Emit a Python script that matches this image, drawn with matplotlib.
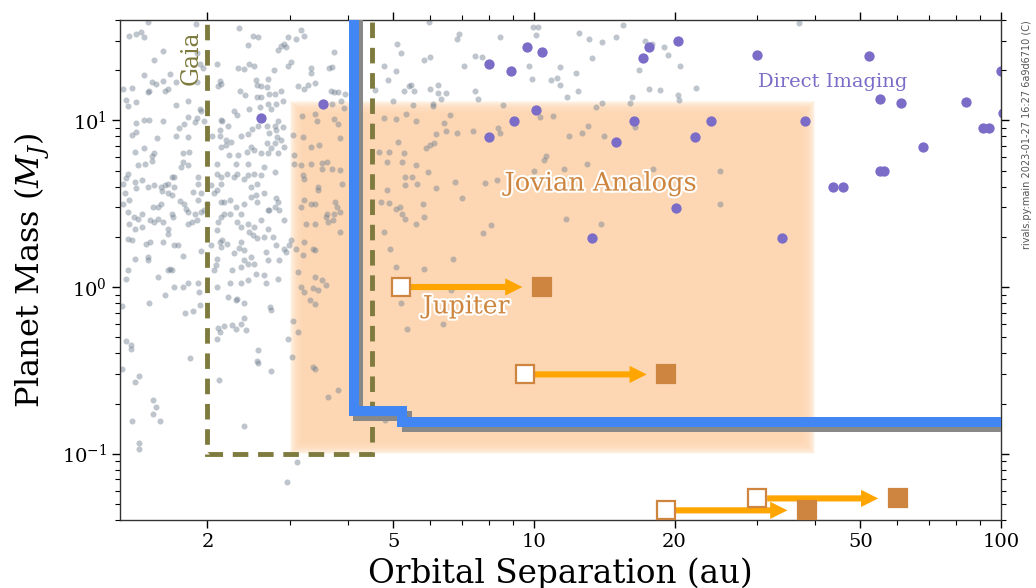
import matplotlib
matplotlib.use('Agg')
import matplotlib.pyplot as plt
import matplotlib.patheffects as pe
from matplotlib.patches import Rectangle
from matplotlib.ticker import NullFormatter
import numpy as np

# known planets (grey dots): (separation au, mass M_J)
known_planets = [
    # a < 2.7 au, upper part
    (1.49, 39), (1.36, 32), (1.41, 33), (1.44, 34), (1.46, 31.7), (1.61, 26), (1.54, 23), (1.46, 18.8),
    (1.52, 17.1), (1.55, 16.6), (1.61, 17.3), (1.66, 19), (1.71, 17), (1.65, 15.5), (1.62, 15.1), (1.50, 15.1),
    (1.49, 14.8), (1.38, 15.6), (1.32, 15.5), (1.34, 13.2), (1.35, 12.2), (1.41, 12.8), (1.71, 12.3), (1.82, 13.0),
    (1.93, 11.7), (1.94, 11.4), (1.90, 10.4), (1.88, 9.75), (1.97, 9.9), (1.61, 9.9), (1.50, 10.1), (1.46, 10.0),
    (1.41, 9.6), (1.74, 9.0), (1.78, 9.55), (1.82, 10.5), (2.14, 10.0), (2.15, 9.9), (2.21, 9.2), (2.13, 8.7),
    (2.05, 8.0), (1.82, 7.9), (1.71, 8.0), (1.56, 7.8), (1.41, 8.5), (1.38, 8.2), (1.46, 6.8), (1.40, 6.5),
    (1.54, 6.4), (1.52, 6.1), (1.77, 6.4), (1.83, 6.5), (2.13, 8.0), (2.19, 7.6), (2.19, 7.1), (2.14, 6.9),
    (2.25, 7.4), (2.36, 8.0), (2.48, 6.9), (2.44, 8.3), (2.49, 8.9), (2.57, 9.3), (2.68, 9.2), (2.71, 8.4),
    (2.68, 7.3), (2.52, 6.6), (2.43, 6.5), (2.61, 6.4), (2.70, 6.4), (2.33, 6.2), (2.23, 6.2), (2.34, 35.9),
    (2.50, 32.0), (2.57, 31.7), (2.44, 28.4), (2.10, 21.8), (2.33, 20.6), (2.39, 20.4), (2.46, 21.8), (2.52, 21.1),
    (2.54, 17.5), (2.61, 16.1), (2.55, 16.3), (2.69, 17.7), (2.68, 15.9), (2.35, 15.1), (2.41, 14.2), (2.28, 11.4),
    (2.32, 10.8), (2.45, 11.7), (2.59, 12.0), (2.60, 13.9), (2.69, 12.5), (2.71, 14.3), (2.56, 13.9), (2.13, 17.3),
    (2.14, 16.6), (2.11, 16.1), (1.90, 25.3), (1.93, 21.8), (1.90, 17.0), (1.96, 20.6), (1.89, 37.6),
    # a < 2.7 au, 1-6 M_J
    (1.42, 5.37), (1.47, 5.45), (1.52, 5.7), (1.35, 4.79), (1.34, 4.53), (1.40, 4.27), (1.45, 4.41), (1.41, 3.9),
    (1.32, 4.13), (1.33, 3.64), (1.32, 3.17), (1.36, 3.32), (1.35, 2.82), (1.39, 2.63), (1.42, 2.57), (1.45, 2.76),
    (1.36, 2.40), (1.40, 2.24), (1.45, 2.29), (1.51, 2.51), (1.54, 2.45), (1.57, 2.57), (1.49, 3.99), (1.54, 4.08),
    (1.59, 3.99), (1.62, 4.08), (1.60, 3.76), (1.65, 3.64), (1.68, 3.55), (1.70, 3.99), (1.68, 4.58), (1.70, 4.58),
    (1.65, 4.17), (1.76, 5.25), (1.82, 5.37), (1.77, 5.63), (1.75, 3.27), (1.78, 3.17), (1.80, 2.92), (1.82, 2.82),
    (1.82, 2.40), (1.85, 2.45), (1.90, 2.51), (1.68, 2.76), (1.69, 2.63), (1.59, 3.17), (1.57, 3.02), (1.53, 3.02),
    (1.61, 2.45), (1.65, 2.24), (1.65, 2.09), (1.61, 1.87), (1.70, 1.78), (1.77, 1.53), (1.73, 1.78), (1.51, 1.87),
    (1.48, 1.82), (1.35, 1.95), (1.38, 1.91), (1.40, 1.48), (1.49, 1.52), (1.49, 1.45), (1.66, 1.29), (1.65, 1.26),
    (1.68, 1.26), (1.57, 1.15), (1.35, 1.26), (1.34, 1.12), (1.62, 0.89), (1.70, 1.0), (1.77, 1.0), (1.82, 1.05),
    (1.92, 0.93), (1.91, 1.05), (1.94, 1.65), (2.09, 1.35), (2.07, 1.26), (2.10, 1.47), (2.14, 1.74), (2.15, 1.91),
    (2.13, 1.87), (2.20, 1.80), (2.04, 1.78), (2.10, 2.19), (2.11, 2.45), (2.14, 2.63), (2.17, 2.76), (2.24, 2.76),
    (2.30, 3.02), (2.36, 2.76), (2.32, 2.45), (2.36, 2.29), (2.44, 2.40), (2.46, 2.14), (2.52, 2.29), (2.60, 2.51),
    (2.69, 2.89), (2.71, 2.89), (2.69, 2.24), (2.64, 2.0), (2.56, 1.98), (2.50, 2.04), (2.36, 1.87), (2.34, 1.72),
    (2.28, 1.59), (2.40, 1.66), (2.48, 1.52), (2.52, 1.38), (2.40, 1.45), (2.44, 1.38), (2.36, 1.32), (2.26, 1.26),
    (2.24, 1.05), (2.36, 1.05), (2.44, 1.10), (2.54, 1.20), (2.64, 1.18), (2.67, 1.63), (2.69, 1.45), (2.67, 1.05),
    (2.32, 0.85), (2.21, 0.87), (2.10, 1.0), (1.91, 3.32), (1.94, 3.64), (1.91, 4.17), (1.86, 3.72), (1.91, 4.58),
    (2.04, 4.08), (2.10, 3.81), (2.14, 4.17), (2.10, 4.79), (2.20, 4.79), (2.14, 4.58), (2.28, 4.58), (2.32, 4.79),
    (2.40, 4.47), (2.44, 4.68), (2.52, 4.79), (2.60, 4.68), (2.56, 4.17), (2.48, 3.99), (2.64, 3.64), (2.54, 3.55),
    (2.48, 3.47), (2.56, 3.24), (2.40, 3.17), (2.24, 3.32), (2.17, 3.24), (2.14, 3.24), (2.07, 3.64), (2.00, 3.17),
    (1.97, 2.89), (1.88, 2.76), (1.94, 2.82), (2.10, 5.5), (2.30, 5.5), (2.44, 5.5), (2.64, 5.25),
    # 2.7 - 5.7 au, upper part
    (3.18, 34.6), (3.22, 32.0), (2.97, 31.7), (3.09, 30.6), (2.92, 28.9), (2.87, 27.8), (2.83, 26.6), (2.95, 27.6),
    (2.78, 20.1), (2.97, 21.2), (3.02, 22.5), (3.33, 20.6), (3.34, 19.2), (3.64, 20.6), (3.70, 21.0), (3.74, 25.8),
    (3.81, 14.7), (3.73, 14.7), (3.67, 15.0), (3.40, 16.8), (3.28, 16.4), (3.22, 15.4), (3.12, 16.1), (2.88, 15.0),
    (2.90, 13.1), (2.79, 14.3), (2.81, 12.5), (2.74, 11.7), (2.79, 9.3), (2.83, 9.95), (2.90, 9.1), (2.81, 8.7),
    (2.82, 7.95), (2.88, 7.6), (2.79, 7.3), (2.74, 6.8), (2.92, 6.95), (2.83, 6.35), (3.05, 8.15), (3.07, 6.2),
    (3.19, 10.6), (3.40, 10.9), (3.43, 9.95), (3.20, 7.95), (3.34, 6.95), (3.46, 7.1), (3.73, 10.2), (3.81, 9.5),
    (3.84, 7.8), (3.70, 12.5), (3.87, 13.1), (3.95, 14.3), (3.93, 11.8), (5.1, 28.9), (5.2, 25.3), (4.78, 21.3),
    (5.06, 19.7), (4.88, 17.5), (4.58, 15.2), (5.27, 15.0), (5.40, 16.1), (5.54, 15.0), (5.45, 16.4), (5.0, 13.1),
    (5.50, 12.3), (5.33, 10.9), (4.77, 10.4), (5.06, 10.2), (5.58, 9.95), (5.12, 7.4), (4.90, 6.5), (4.67, 6.5),
    (5.27, 6.35),
    # 2.7 - 5.7 au, 1-6 M_J
    (3.07, 5.50), (3.18, 5.37), (3.34, 5.50), (3.52, 5.55), (3.61, 5.63), (3.70, 5.13), (3.85, 5.02), (3.52, 5.13),
    (2.79, 4.9), (3.20, 4.68), (3.22, 4.47), (3.45, 3.99), (3.45, 3.81), (3.88, 4.17), (3.22, 3.32), (3.34, 3.17),
    (3.40, 3.17), (3.18, 3.02), (3.76, 3.24), (3.78, 3.02), (3.73, 2.76), (3.85, 2.82), (3.61, 2.76), (3.58, 2.63),
    (3.40, 2.40), (3.63, 2.45), (3.72, 2.51), (3.85, 2.14), (2.81, 3.40), (2.79, 3.02), (2.85, 2.89), (2.83, 3.24),
    (2.92, 2.51), (2.76, 2.0), (3.02, 1.91), (2.92, 1.70), (2.81, 1.78), (2.99, 1.78), (3.09, 1.70), (3.25, 2.40),
    (3.22, 1.87), (3.37, 1.70), (3.40, 1.66), (3.20, 1.55), (3.12, 1.23), (3.18, 1.00), (3.40, 1.15), (3.52, 1.10),
    (3.58, 1.03), (3.37, 0.98), (3.45, 0.96), (3.22, 0.93), (2.83, 1.12), (2.85, 1.45), (2.95, 1.63), (4.85, 5.63),
    (5.23, 5.63), (5.58, 5.37), (5.31, 4.58), (5.48, 4.58), (5.31, 4.08), (5.62, 4.17), (4.85, 3.81), (4.70, 3.24),
    (4.89, 3.2), (5.06, 2.95), (5.18, 3.02), (5.23, 2.76), (5.31, 2.57), (4.77, 2.14), (4.93, 1.70), (5.06, 1.32),
    (5.58, 2.40),
    # 5.7 - 12 au
    (5.95, 38.8), (6.93, 33.0), (6.86, 30.9), (8.45, 31.7), (9.95, 36.5), (10.2, 36.2), (10.1, 32.4), (7.49, 24.2),
    (7.73, 23.9), (7.08, 21.1), (5.98, 23.9), (5.82, 23.1), (9.78, 21.2), (11.4, 21.0), (9.91, 17.7), (10.9, 17.5),
    (11.2, 17.9), (11.4, 16.4), (11.8, 13.9), (6.22, 16.4), (5.98, 15.5), (6.24, 14.6), (6.48, 14.6), (6.32, 13.4),
    (6.08, 12.5), (6.08, 12.2), (7.47, 15.0), (7.59, 13.4), (8.60, 12.4), (6.62, 10.7), (6.42, 9.7), (6.48, 8.6),
    (6.86, 8.45), (7.41, 8.6), (8.38, 8.95), (8.46, 8.4), (10.3, 10.5), (11.0, 10.6), (11.9, 8.0), (6.17, 8.25),
    (6.10, 7.3), (5.88, 6.85), (5.98, 7.1), (10.6, 6.1),
    (5.93, 4.9), (6.17, 3.95), (6.77, 4.27), (7.02, 3.42), (7.85, 4.2), (8.32, 4.4), (5.8, 3.17), (5.81, 2.63),
    (8.1, 2.37), (7.79, 2.1), (6.7, 1.47), (5.83, 1.29), (6.65, 0.96), (10.0, 5.0), (10.5, 5.76), (11.6, 5.13),
    (11.7, 2.57), (6.38, 0.60),
    # below 1 M_J, a < 5.5 au
    (1.50, 0.80), (1.31, 0.77), (1.93, 0.78), (1.86, 0.72), (1.79, 0.70), (1.34, 0.475), (1.37, 0.45), (1.37, 0.426),
    (1.31, 0.32), (1.43, 0.293), (1.40, 0.27), (1.53, 0.21), (1.55, 0.19), (1.53, 0.173), (1.38, 0.157), (1.58, 0.157),
    (1.43, 0.116), (1.43, 0.106), (1.84, 0.375), (2.12, 0.275), (2.10, 0.49), (2.11, 0.565), (2.17, 0.58), (2.13, 0.54),
    (2.26, 0.59), (2.30, 0.56), (2.36, 0.60), (2.40, 0.65), (2.42, 0.555), (2.30, 0.836), (2.40, 0.80), (2.72, 0.76),
    (2.74, 0.73), (2.57, 0.416), (2.55, 0.36), (2.57, 0.35), (2.74, 0.315), (2.40, 0.146), (3.05, 0.625), (3.13, 0.535),
    (2.98, 0.485), (3.03, 0.38), (3.11, 0.089), (2.96, 0.068), (3.37, 0.33), (3.40, 0.32), (3.62, 0.22), (3.81, 0.24),
    (5.2, 0.80), (5.35, 0.56), (3.32, 0.836), (3.40, 0.79), (4.8, 0.16),
    # a > 12 au
    (12.5, 33.5), (13.1, 30.6), (14.0, 29.4), (15.0, 31.8), (15.5, 37.4), (13.3, 23.6), (12.3, 19.2), (12.4, 15.1),
    (17.3, 30.1), (17.9, 28.8), (19.0, 27.5), (19.4, 24.5), (16.8, 20.1), (20.5, 21.3), (17.6, 15.5), (18.6, 15.3),
    (20.3, 14.1), (20.4, 13.2), (22.2, 15.6), (37.0, 38.6), (16.2, 13.8), (16.1, 12.7), (16.5, 9.1), (18.0, 5.14),
    (25.0, 5.0), (25.0, 3.15), (13.9, 2.39), (13.0, 5.5), (14.1, 8.05), (14.0, 12.7), (13.6, 12.0), (13.06, 9.3),
    (12.7, 8.44),
]

# directly imaged companions (purple)
imaged_planets = [
    (9.65, 27.7), (10.4, 25.6), (8.03, 21.9), (8.93, 19.8), (17.6, 27.4), (17.1, 23.8), (20.3, 29.9), (30.0, 24.8),
    (52.1, 24.2), (99.9, 19.8), (55.2, 13.5), (61.2, 12.7), (84.2, 12.9), (101.0, 11.1), (91.6, 8.96), (94.2, 8.96),
    (68.1, 6.96), (55.0, 4.97), (56.1, 4.97), (43.6, 3.99), (46.0, 3.99), (10.1, 11.6), (9.05, 9.89), (8.03, 7.91),
    (16.4, 9.89), (15.0, 7.39), (22.1, 7.91), (24.0, 9.89), (38.0, 9.89), (20.1, 2.97), (13.3, 1.97), (34.0, 1.97),
    (2.61, 10.4), (3.54, 12.6),
]

# solar system giants: today (open) and moved out x2 (filled)
ss_sep = [5.2, 9.58, 19.2, 30.1]
ss_mass = [1.0, 0.299, 0.0457, 0.0539]
ss_sep_out = [10.4, 19.2, 38.4, 60.1]

# sensitivity curve (blue)
sens_sep = [4.11, 4.11, 5.22, 5.22, 120]
sens_mass = [60, 0.181, 0.181, 0.1555, 0.1555]

# Gaia region (dashed)
gaia_sep = [2.0, 2.0, 4.5, 4.5]
gaia_mass = [60, 0.1, 0.1, 60]

# Jovian analogs box
jov_sep = [3.0, 40.0]
jov_mass = [0.1, 13.0]

known_sep = [p[0] for p in known_planets]
known_mass = [p[1] for p in known_planets]
img_sep = [p[0] for p in imaged_planets]
img_mass = [p[1] for p in imaged_planets]

plt.rcParams['font.family'] = ['DejaVu Serif']
plt.rcParams['mathtext.fontset'] = 'dejavuserif'

peru = '#cd853f'
purple = '#7b6cc8'
olive = '#7f7b3e'

fig = plt.figure(figsize=(10.36, 5.88), dpi=100)
ax = fig.add_axes([120 / 1036, 68 / 588, 881 / 1036, 500 / 588])
ax.set_xscale('log')
ax.set_yscale('log')
ax.set_xlim(1.3, 100)
ax.set_ylim(0.04, 40)

# soft edged box: stack of shrinking rectangles
dx = np.log10(100 / 1.3) / 881
dy = np.log10(40 / 0.04) / 500
for k in range(14):
    fx = 10 ** (k * dx)
    fy = 10 ** (k * dy)
    x0, x1 = jov_sep[0] * fx, jov_sep[1] / fx
    y0, y1 = jov_mass[0] * fy, jov_mass[1] / fy
    ax.add_patch(Rectangle((x0, y0), x1 - x0, y1 - y0, fc='#fdd7b2', ec='none', alpha=0.2, zorder=1))

ax.scatter(known_sep, known_mass, s=19, color='#708090', alpha=0.45, linewidths=0, zorder=2)
ax.scatter(img_sep, img_mass, s=55, color=purple, linewidths=0, zorder=2.5)

ax.plot(gaia_sep, gaia_mass, color=olive, lw=3.5, dashes=(3.2, 2.0), solid_joinstyle='miter',
        dash_joinstyle='miter', zorder=3)

ax.plot(sens_sep, sens_mass, color='#4286f4', lw=7.2, solid_joinstyle='miter', solid_capstyle='butt', zorder=3.5,
        path_effects=[pe.SimpleLineShadow(offset=(3.5, -3.5), shadow_color='#888888', alpha=1.0), pe.Normal()])

for a0, a1, m in zip(ss_sep, ss_sep_out, ss_mass):
    ax.annotate('', xy=(a1, m), xytext=(a0, m), zorder=4,
                arrowprops=dict(arrowstyle='simple,head_width=0.62,head_length=0.62,tail_width=0.22',
                                mutation_scale=20, fc='orange', ec='none', shrinkA=7, shrinkB=14))
ax.plot(ss_sep, ss_mass, 's', ms=13, mfc='white', mec=peru, mew=1.6, ls='none', zorder=5)
ax.plot(ss_sep_out, ss_mass, 's', ms=13, mfc=peru, mec=peru, mew=1.6, ls='none', zorder=5)

stroke = [pe.withStroke(linewidth=3, foreground='white')]
ax.text(13.9, 4.2, 'Jovian Analogs', color=peru, fontsize=18.5, ha='center', va='center', path_effects=stroke, zorder=6)
ax.text(7.16, 0.76, 'Jupiter', color=peru, fontsize=18, ha='center', va='center', path_effects=stroke, zorder=6)
ax.text(43.7, 17.1, 'Direct Imaging', color=purple, fontsize=14, ha='center', va='center', zorder=6)
ax.text(1.85, 23.9, 'Gaia', color=olive, fontsize=17, rotation=90, ha='center', va='center', zorder=6)

ax.set_xticks([2, 5, 10, 20, 50, 100])
ax.set_xticklabels(['2', '5', '10', '20', '50', '100'])
ax.xaxis.set_minor_formatter(NullFormatter())
ax.yaxis.set_minor_formatter(NullFormatter())
ax.tick_params(which='both', direction='out', top=True, right=True, labelsize=14)
ax.tick_params(which='major', length=6, width=1)
ax.tick_params(which='minor', length=3.5, width=0.8)
for s in ax.spines.values():
    s.set_linewidth(1)
    s.set_color('#333333')

ax.set_xlabel('Orbital Separation (au)', fontsize=23.5)
ax.set_ylabel('Planet Mass ($M_J$)', fontsize=23)
ax.xaxis.set_label_coords(0.5, -0.074)
ax.yaxis.set_label_coords(-0.077, 0.5)

fig.text(0.991, 0.966, 'rivals.py:main 2023-01-27 16:27 6a9d6710 (C)', rotation=90, ha='center', va='top',
         fontsize=7, color='#555555', family='DejaVu Sans')

fig.savefig('out.png', dpi=100)
